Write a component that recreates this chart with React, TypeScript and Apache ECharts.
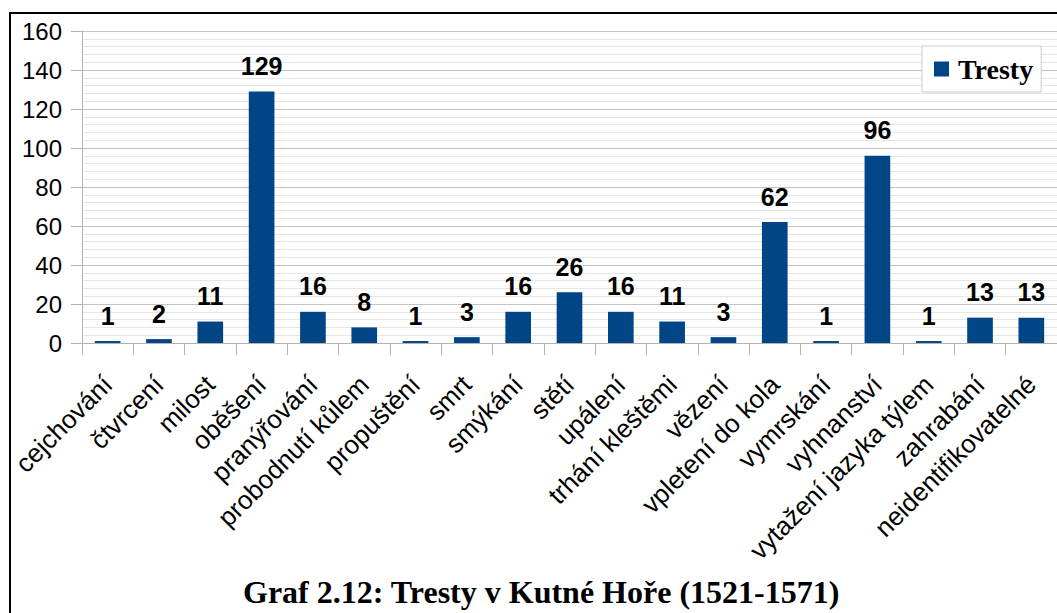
import React, { useEffect, useRef } from "react";
import * as echarts from "echarts";

const categories = [
  "cejchování",
  "čtvrcení",
  "milost",
  "oběšení",
  "pranýřování",
  "probodnutí kůlem",
  "propuštění",
  "smrt",
  "smýkání",
  "stětí",
  "upálení",
  "trhání kleštěmi",
  "vězení",
  "vpletení do kola",
  "vymrskání",
  "vyhnanství",
  "vytažení jazyka týlem",
  "zahrabání",
  "neidentifikovatelné",
];
const tresty = [1, 2, 11, 129, 16, 8, 1, 3, 16, 26, 16, 11, 3, 62, 1, 96, 1, 13, 13];
const seriesName = "Tresty";
const titleText = "Graf 2.12: Tresty v Kutné Hoře (1521-1571)";

export default function App() {
  const ref = useRef<HTMLDivElement>(null);
  useEffect(() => {
    if (!ref.current) return;
    const chart = echarts.init(ref.current, undefined, { renderer: "svg" });
    const sans = "'Liberation Sans', Arial, sans-serif";
    const serif = "'Liberation Serif', 'Times New Roman', serif";
    chart.setOption({
      animation: false,
      backgroundColor: "#ffffff",
      title: {
        text: titleText,
        left: 243,
        top: 576,
        padding: 0,
        textStyle: {
          fontFamily: serif,
          fontWeight: "bold",
          fontSize: 32,
          color: "#000",
        },
      },
      legend: {
        data: [seriesName],
        left: 922,
        top: 46,
        orient: "vertical",
        padding: [9, 8, 9, 12],
        itemWidth: 15,
        itemHeight: 15,
        itemGap: 0,
        icon: "rect",
        backgroundColor: "#fff",
        borderColor: "#cccccc",
        borderWidth: 1,
        textStyle: {
          fontFamily: serif,
          fontWeight: "bold",
          fontSize: 28,
          color: "#000",
          padding: [0, 0, 0, 4],
        },
      },
      graphic: [
        {
          type: "rect",
          shape: { x: 10, y: 13, width: 1200, height: 800 },
          style: { fill: "none", stroke: "#000", lineWidth: 2 },
          silent: true,
          z: 100,
        },
      ],
      grid: { left: 82, top: 31, right: 0, bottom: 270, containLabel: false },
      xAxis: {
        type: "category",
        data: categories,
        axisLine: { show: true, lineStyle: { color: "#b3b3b3", width: 1 } },
        axisTick: {
          show: true,
          length: 12,
          alignWithLabel: false,
          lineStyle: { color: "#b3b3b3" },
        },
        axisLabel: {
          interval: 0,
          rotate: 45,
          margin: 37,
          fontFamily: sans,
          fontSize: 26,
          color: "#000",
        },
        splitLine: { show: false },
      },
      yAxis: {
        type: "value",
        min: 0,
        max: 160,
        interval: 20,
        axisLine: { show: true, lineStyle: { color: "#b3b3b3" } },
        axisTick: { show: true, length: 11, lineStyle: { color: "#b3b3b3" } },
        axisLabel: {
          margin: 20,
          fontFamily: sans,
          fontSize: 24,
          color: "#000",
        },
        splitLine: { show: true, lineStyle: { color: "#c4c4c4", width: 1 } },
        minorTick: { show: false, splitNumber: 5 },
        minorSplitLine: { show: true, lineStyle: { color: "#e6e6e6", width: 1 } },
      },
      series: [
        {
          name: seriesName,
          type: "bar",
          data: tresty,
          barWidth: "50%",
          itemStyle: { color: "#004586" },
          label: {
            show: true,
            position: "top",
            distance: 13,
            fontFamily: sans,
            fontWeight: "bold",
            fontSize: 25,
            color: "#000",
          },
        },
      ],
    });
    return () => chart.dispose();
  }, []);
  return (
    <div
      ref={ref}
      style={{ position: "fixed", left: 0, top: 0, width: 1057, height: 613 }}
    />
  );
}
